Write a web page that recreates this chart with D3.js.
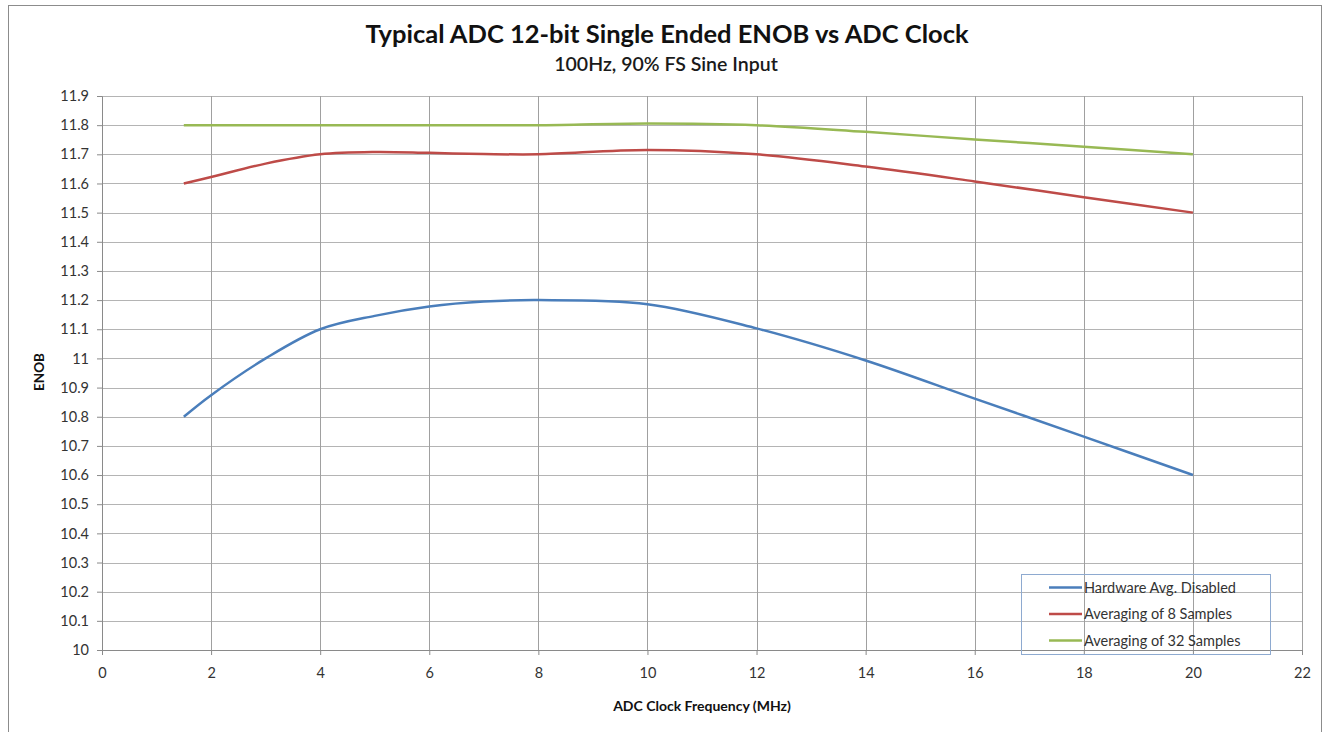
<!DOCTYPE html>
<html>
<head>
<meta charset="utf-8">
<script src="https://cdn.jsdelivr.net/npm/d3@7"></script>
<style>
  body { margin: 0; background: #fff; }
  svg text { font-family: Lato, "Open Sans", sans-serif; }
</style>
</head>
<body>
<div id="chart"></div>
<script>
// chart data
const freqMHz = [1.5, 2, 3, 4, 5, 6, 7, 8, 10, 12, 14, 16, 18, 20];
const hwAvgDisabled = [10.8, 10.874, 11.0, 11.1, 11.146, 11.178, 11.195, 11.2, 11.186, 11.103, 10.993, 10.862, 10.732, 10.6];
const avg8Samples = [11.6, 11.622, 11.668, 11.7, 11.708, 11.705, 11.701, 11.7, 11.715, 11.7, 11.658, 11.607, 11.553, 11.5];
const avg32Samples = [11.8, 11.8, 11.8, 11.8, 11.8, 11.8, 11.8, 11.8, 11.806, 11.8, 11.777, 11.751, 11.726, 11.7];
const seriesNames = ['Hardware Avg. Disabled', 'Averaging of 8 Samples', 'Averaging of 32 Samples'];
const xTicks = [0, 2, 4, 6, 8, 10, 12, 14, 16, 18, 20, 22];
const yTicks = d3.range(0, 20).map(i => +(10 + i * 0.1).toFixed(1));

const W = 1331, H = 732;
const margin = { top: 96, right: 29, bottom: 82, left: 102 };
const width = W - margin.left - margin.right;
const height = H - margin.top - margin.bottom;

const svg = d3.select('#chart').append('svg')
  .attr('width', W)
  .attr('height', H);

// outer frame of the chart object
svg.append('rect')
  .attr('x', 8.5).attr('y', 5.5)
  .attr('width', 1313).attr('height', 740)
  .attr('fill', '#fff')
  .attr('stroke', '#8c8c8c');

svg.append('text')
  .attr('x', 667).attr('y', 43)
  .attr('text-anchor', 'middle')
  .style('font-size', '25.5px').style('font-weight', 'bold')
  .attr('fill', '#111')
  .text('Typical ADC 12-bit Single Ended ENOB vs ADC Clock');

svg.append('text')
  .attr('x', 666).attr('y', 71)
  .attr('text-anchor', 'middle')
  .style('font-size', '19.5px').style('font-weight', '600')
  .attr('fill', '#1a1a1a')
  .text('100Hz, 90% FS Sine Input');

const g = svg.append('g').attr('transform', `translate(${margin.left},${margin.top})`);

const x = d3.scaleLinear().domain([0, 22]).range([0, width]);
const y = d3.scaleLinear().domain([10, 11.9]).range([height, 0]);

// gridlines
g.append('g')
  .selectAll('line')
  .data(yTicks)
  .enter().append('line')
  .attr('x1', 0).attr('x2', width)
  .attr('y1', d => Math.round(y(d)) + 0.5).attr('y2', d => Math.round(y(d)) + 0.5)
  .attr('stroke', '#b4b4b4');

g.append('g')
  .selectAll('line')
  .data(xTicks)
  .enter().append('line')
  .attr('y1', 0).attr('y2', height)
  .attr('x1', d => Math.round(x(d)) + 0.5).attr('x2', d => Math.round(x(d)) + 0.5)
  .attr('stroke', '#a0a0a0');

// axes
const xAxis = g.append('g')
  .attr('transform', `translate(0,${height})`)
  .call(d3.axisBottom(x).tickValues(xTicks).tickSize(5).tickSizeOuter(0).tickPadding(13));

const yAxis = g.append('g')
  .call(d3.axisLeft(y).tickValues(yTicks).tickSize(5).tickSizeOuter(0).tickPadding(8)
    .tickFormat(d => String(+d.toFixed(1))));

[xAxis, yAxis].forEach(ax => {
  ax.selectAll('path, line').attr('stroke', '#8a8a8a');
  ax.selectAll('text').attr('fill', '#333').style('font-size', '14.5px');
});

svg.append('text')
  .attr('x', 702).attr('y', 711)
  .attr('text-anchor', 'middle')
  .style('font-size', '14px').style('font-weight', 'bold')
  .attr('fill', '#111')
  .text('ADC Clock Frequency (MHz)');

svg.append('text')
  .attr('transform', 'translate(44,372) rotate(-90)')
  .attr('text-anchor', 'middle')
  .style('font-size', '13.5px').style('font-weight', 'bold')
  .attr('fill', '#111')
  .text('ENOB');

// series
const colors = ['#4a7ebb', '#be4b48', '#98b954'];
const series = [hwAvgDisabled, avg8Samples, avg32Samples].map((vals, i) => ({
  name: seriesNames[i],
  color: colors[i],
  points: freqMHz.map((f, j) => ({ f, v: vals[j] }))
}));

const line = d3.line()
  .x(d => x(d.f))
  .y(d => y(d.v))
  .curve(d3.curveCatmullRom.alpha(0.5));

g.selectAll('.series')
  .data(series)
  .enter().append('path')
  .attr('class', 'series')
  .attr('fill', 'none')
  .attr('stroke', d => d.color)
  .attr('stroke-width', 2.5)
  .attr('d', d => line(d.points));

// legend
const legend = svg.append('g').attr('transform', 'translate(1021,574)');
legend.append('rect')
  .attr('x', 0.5).attr('y', 0.5)
  .attr('width', 249).attr('height', 80)
  .attr('fill', 'none')
  .attr('stroke', '#8eaad0');

const item = legend.selectAll('.item')
  .data(series)
  .enter().append('g')
  .attr('transform', (d, i) => `translate(0,${13.5 + i * 26.5})`);

item.append('line')
  .attr('x1', 28).attr('x2', 61)
  .attr('stroke', d => d.color)
  .attr('stroke-width', 2.5);

item.append('text')
  .attr('x', 63).attr('y', 5)
  .style('font-size', '14.5px')
  .attr('fill', '#333')
  .text(d => d.name);
</script>
</body>
</html>
